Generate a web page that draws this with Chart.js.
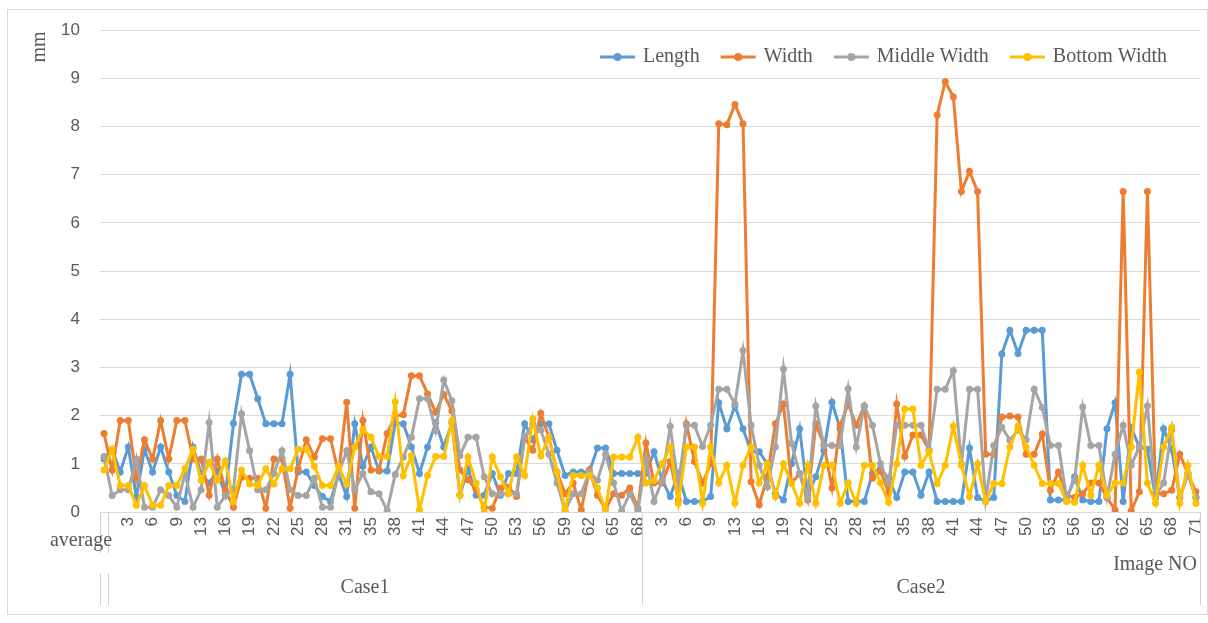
<!DOCTYPE html>
<html>
<head>
<meta charset="utf-8">
<title>Length and width per image</title>
<script src="https://cdn.jsdelivr.net/npm/chart.js@4.4.0/dist/chart.umd.min.js"></script>
<style>
  html, body { margin: 0; padding: 0; background: #fff; }
  #box { position: relative; width: 1208px; height: 623px; }
</style>
</head>
<body>
<div id="box"><canvas id="chart"></canvas></div>
<script>
// image numbers on the category axis (11 and 33 are missing in both cases)
const case1No = [1,2,3,4,5,6,7,8,9,10,12,13,14,15,16,17,18,19,20,21,22,23,24,25,26,27,28,29,30,31,32,
  34,35,36,37,38,39,40,41,42,43,44,45,46,47,48,49,50,51,52,53,54,55,56,57,58,59,60,61,62,63,64,65,66,67,68];
const case2No = [1,2,3,4,5,6,7,8,9,10,12,13,14,15,16,17,18,19,20,21,22,23,24,25,26,27,28,29,30,31,32,
  34,35,36,37,38,39,40,41,42,43,44,45,46,47,48,49,50,51,52,53,54,55,56,57,58,59,60,61,62,63,64,65,66,67,68,69,70,71];
const groupNames = ["Case1", "Case2"];
const seriesNames = ["Length", "Width", "Middle Width", "Bottom Width"];
const seriesColors = ["#5b9bd5", "#ed7d31", "#a5a5a5", "#ffc000"];

// averages (Length, Width, Middle Width, Bottom Width), mm
const averageValues = [1.1, 1.63, 1.15, 0.87];

// Case1, mm
const case1Length = [1.3,0.83,1.35,0.3,1.3,0.83,1.35,0.83,0.34,0.22,
  1.35,0.8,0.6,0.85,0.35,1.84,2.86,2.86,2.35,1.83,
  1.83,1.83,2.86,0.83,0.83,0.55,0.32,0.22,0.8,0.32,
  1.83,0.95,1.35,0.85,0.85,1.85,1.83,1.35,0.8,1.35,
  1.85,1.35,1.85,0.35,0.9,0.35,0.35,0.8,0.35,0.8,
  0.8,1.83,1.5,1.83,1.83,1.28,0.76,0.83,0.83,0.83,
  1.33,1.33,0.8,0.8,0.8,0.8];
const case1Width = [0.87,1.9,1.9,0.7,1.5,1.1,1.9,1.1,1.9,1.9,
  1.1,1.1,0.35,1.1,0.45,0.1,0.72,0.7,0.7,0.08,
  1.1,1.1,0.08,0.9,1.5,1.14,1.52,1.52,0.8,2.28,
  0.08,1.9,0.87,0.87,1.63,2.0,2.02,2.83,2.83,2.45,
  2.07,2.44,2.1,0.87,0.67,0.46,0.1,0.08,0.5,0.52,
  0.32,1.55,1.28,2.05,1.55,0.83,0.38,0.6,0.04,0.87,
  0.35,0.06,0.38,0.35,0.5,0.08];
const case1Middle = [0.34,0.46,0.46,1.1,0.1,0.1,0.46,0.34,0.1,0.8,
  0.1,0.46,1.86,0.1,0.34,0.46,2.04,1.27,0.46,0.46,
  0.8,1.27,0.46,0.34,0.34,0.7,0.1,0.1,0.8,1.27,
  0.46,0.8,0.42,0.38,0.03,0.78,1.14,1.55,2.35,2.35,
  1.69,2.74,2.31,1.17,1.55,1.55,0.73,0.38,0.38,0.38,
  0.38,1.55,1.83,1.7,1.2,0.6,0.02,0.38,0.38,0.83,
  0.66,1.2,0.6,0.02,0.38,0.02];
const case1Bottom = [1.3,0.55,0.55,0.14,0.55,0.14,0.14,0.55,0.55,0.9,
  1.3,0.66,1.03,0.66,1.06,0.22,0.87,0.58,0.55,0.9,
  0.58,0.9,0.9,1.3,1.3,0.95,0.55,0.55,0.95,0.58,
  1.35,1.72,1.55,1.15,1.15,2.29,0.75,1.17,0.04,0.76,
  1.15,1.15,1.9,0.35,1.14,0.59,0.0,1.14,0.73,0.38,
  1.14,0.76,1.93,1.17,1.55,0.83,0.04,0.76,0.76,0.76,
  0.5,0.04,1.14,1.14,1.14,1.55];

// Case2, mm
const case2Length = [0.8,1.25,0.66,0.32,0.8,0.22,0.22,0.22,0.32,2.27,
  1.73,2.2,1.73,1.25,1.25,1.0,0.38,0.25,1.0,1.73,
  0.35,0.73,1.28,2.28,1.73,0.22,0.22,0.22,0.8,0.9,
  0.7,0.3,0.83,0.83,0.35,0.83,0.22,0.22,0.22,0.22,
  1.33,0.3,0.22,0.3,3.28,3.77,3.29,3.77,3.77,3.77,
  0.25,0.25,0.25,0.73,0.25,0.22,0.22,1.73,2.27,0.22,
  1.75,1.35,1.3,0.3,1.73,1.3,0.3,0.8,0.3];
const case2Width = [1.43,0.6,0.6,1.05,0.25,1.83,1.05,0.6,1.0,8.06,
  8.04,8.46,8.06,0.63,0.15,0.73,1.83,2.24,0.6,0.8,
  0.25,1.83,1.4,0.5,1.8,2.24,1.8,2.2,0.7,0.85,
  0.4,2.24,1.15,1.6,1.6,1.28,8.24,8.93,8.62,6.65,
  7.07,6.65,1.2,1.2,1.97,1.99,1.97,1.2,1.2,1.62,
  0.45,0.83,0.35,0.3,0.38,0.6,0.6,0.3,0.04,6.65,
  0.02,0.42,6.65,0.38,0.38,0.45,1.2,0.8,0.42];
const case2Middle = [1.1,0.22,0.66,1.78,0.55,1.8,1.8,1.36,1.8,2.55,
  2.55,2.24,3.35,1.8,0.97,0.52,1.35,2.97,1.42,0.8,
  0.3,2.2,1.38,1.38,1.38,2.56,1.35,2.2,1.8,1.0,
  0.6,1.8,1.8,1.8,1.8,1.28,2.55,2.55,2.93,1.0,
  2.55,2.55,0.25,1.38,1.76,1.49,1.7,1.5,2.55,2.17,
  1.38,1.38,0.3,0.66,2.18,1.38,1.38,0.3,1.2,1.8,
  0.97,1.35,2.2,0.32,0.6,1.7,0.3,0.8,0.3];
const case2Bottom = [0.6,0.66,1.0,1.35,0.18,1.35,1.35,0.18,1.35,0.6,
  0.97,0.18,0.97,1.35,0.6,1.0,0.32,1.0,0.6,0.18,
  0.97,0.18,0.97,0.97,0.18,0.6,0.18,0.97,0.97,0.6,
  0.2,1.0,2.14,2.14,0.97,1.25,0.59,0.97,1.78,0.97,
  0.32,1.0,0.22,0.59,0.59,1.35,1.78,1.35,0.97,0.59,
  0.59,0.59,0.22,0.2,0.97,0.35,0.97,0.35,0.6,0.6,
  1.35,2.9,0.6,0.18,1.35,1.76,0.18,0.97,0.18];

// category list: average, then Case1 images, then Case2 images
const labels = ["average"].concat(case1No.map(String), case2No.map(String));
const seriesData = [
  [averageValues[0]].concat(case1Length, case2Length),
  [averageValues[1]].concat(case1Width, case2Width),
  [averageValues[2]].concat(case1Middle, case2Middle),
  [averageValues[3]].concat(case1Bottom, case2Bottom),
];

const serif = "'Liberation Serif', 'Times New Roman', serif";
const sans = "'Liberation Sans', Arial, sans-serif";
const textColor = "#595959";

//draws the frame, custom legend, unit and multi-level axis labels
const extras = {
  id: "extras",
  beforeDraw(chart) {
    const ctx = chart.ctx;
    ctx.save();
    ctx.fillStyle = "#fff";
    ctx.fillRect(0, 0, chart.width, chart.height);
    ctx.strokeStyle = "#d9d9d9";
    ctx.lineWidth = 1;
    ctx.strokeRect(7.5, 9.5, 1200, 605);
    ctx.restore();
  },
  afterDraw(chart) {
    const ctx = chart.ctx;
    const area = chart.chartArea;
    const xs = chart.scales.x;
    const half = (xs.getPixelForValue(1) - xs.getPixelForValue(0)) / 2;
    const rightEdge = (i) => xs.getPixelForValue(i) + half;
    ctx.save();

    //group separators under the axis
    ctx.strokeStyle = "#d0d0d0";
    ctx.lineWidth = 1;
    const seps = [area.left, rightEdge(0), rightEdge(case1No.length), area.right];
    seps.forEach((x, k) => {
      const px = Math.round(x) + 0.5;
      ctx.beginPath();
      if (k < 2) {
        ctx.moveTo(px, area.bottom); ctx.lineTo(px, area.bottom + 41);
        ctx.moveTo(px, area.bottom + 61); ctx.lineTo(px, area.bottom + 93);
      } else {
        ctx.moveTo(px, area.bottom); ctx.lineTo(px, area.bottom + 93);
      }
      ctx.stroke();
    });

    ctx.fillStyle = textColor;
    ctx.font = "20px " + serif;
    ctx.textBaseline = "middle";

    //"average" label, written flat
    ctx.textAlign = "right";
    ctx.fillText(labels[0], rightEdge(0) + 4, area.bottom + 29);

    //group names
    ctx.textAlign = "center";
    const mid1 = (rightEdge(0) + rightEdge(case1No.length)) / 2 - 10;
    const mid2 = (rightEdge(case1No.length) + area.right) / 2;
    ctx.fillText(groupNames[0], mid1, area.bottom + 76);
    ctx.fillText(groupNames[1], mid2, area.bottom + 76);

    //axis titles
    ctx.textAlign = "right";
    ctx.fillText("Image NO", area.right - 3, area.bottom + 53);
    ctx.save();
    ctx.translate(40, 47);
    ctx.rotate(-Math.PI / 2);
    ctx.textAlign = "center";
    ctx.fillText("mm", 0, 0);
    ctx.restore();

    //legend inside the plot, top right
    let x = 600;
    const y = 57;
    chart.data.datasets.forEach((ds) => {
      ctx.strokeStyle = ds.borderColor;
      ctx.lineWidth = 3;
      ctx.beginPath();
      ctx.moveTo(x, y); ctx.lineTo(x + 35, y);
      ctx.stroke();
      ctx.fillStyle = ds.borderColor;
      ctx.beginPath();
      ctx.arc(x + 17.5, y, 4, 0, Math.PI * 2);
      ctx.fill();
      ctx.fillStyle = textColor;
      ctx.textAlign = "left";
      ctx.fillText(ds.label, x + 43, y);
      x += 43 + ctx.measureText(ds.label).width + 21;
    });
    ctx.restore();
  },
};

new Chart(document.getElementById("chart"), {
  type: "line",
  plugins: [extras],
  data: {
    labels: labels,
    datasets: seriesNames.map((name, i) => ({
      label: name,
      data: seriesData[i],
      borderColor: seriesColors[i],
      backgroundColor: seriesColors[i],
      borderWidth: 3,
      pointRadius: 3.5,
      pointBorderWidth: 0,
      tension: 0,
      //later series painted on top, like the original
      order: 3 - i,
    })),
  },
  options: {
    responsive: true,
    maintainAspectRatio: false,
    animation: false,
    layout: { padding: { left: 0, top: 28, right: 8, bottom: 0 } },
    plugins: {
      legend: { display: false },
      tooltip: { enabled: false },
    },
    scales: {
      x: {
        offset: true,
        grid: { display: false, drawTicks: false },
        border: { display: true, color: "#d9d9d9" },
        ticks: {
          autoSkip: false,
          minRotation: 90,
          maxRotation: 90,
          padding: 5,
          color: textColor,
          font: { family: sans, size: 17 },
          callback: (v, i) => (i > 0 && i % 3 === 0 ? labels[i] : ""),
        },
        afterFit: (s) => {
          s.height = 111;
          s.paddingLeft = 0;
          s.paddingRight = 0;
        },
      },
      y: {
        min: 0,
        max: 10,
        grid: { color: "#d9d9d9", drawTicks: false },
        border: { display: false },
        ticks: {
          stepSize: 1,
          padding: 20,
          color: textColor,
          font: { family: sans, size: 17 },
        },
        afterFit: (s) => { s.width = 100; },
      },
    },
  },
});
</script>
</body>
</html>
